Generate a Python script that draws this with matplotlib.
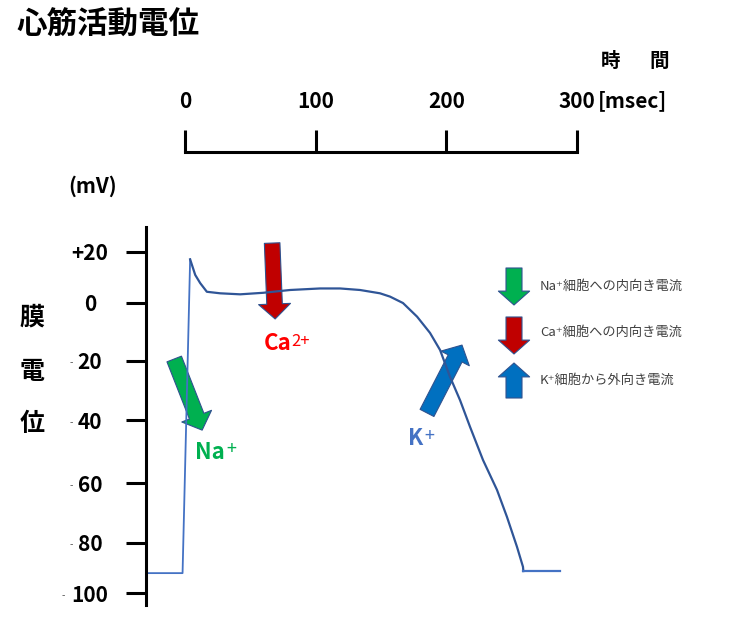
import numpy as np
import matplotlib
matplotlib.use("Agg")
import matplotlib.pyplot as plt
from matplotlib.patches import FancyArrowPatch
from matplotlib.transforms import blended_transform_factory

plt.rcParams['font.family'] = ['Noto Sans CJK JP', 'DejaVu Sans']

# ---- data ----
AP_TIME = [-29, -2, 3.8, 7.7, 11.5, 16.6, 26.8, 42.1, 59.7, 80.4, 103.3, 118.6,
           133.9, 149.2, 156.9, 166.8, 177.6, 187.5, 195.2, 202.8, 210.5, 218.1,
           228.1, 238.8, 246.4, 254.1, 258.7, 259, 287]
AP_MV = [-92, -92, 17.0, 10.9, 7.7, 4.3, 3.7, 3.3, 3.9, 5.0, 5.6, 5.6,
         5.0, 3.7, 2.4, -0.1, -4.8, -10.4, -16.3, -25.4, -33.3, -42.1,
         -52.7, -62.3, -71.3, -81.6, -89.5, -91.2, -91.2]

TIME_TICKS = [0, 100, 200, 300]
TIME_LABELS = ["0", "100", "200", "300"]
MV_TICKS = [20, 0, -20, -40, -60, -80, -100]
MV_LABELS = ["+20", "0", "20", "40", "60", "80", "100"]

# ion arrows (tail, tip) in (msec, mV)
ARROW_NA = ((-8.4, -19.4), (13, -43.2))
ARROW_CA = ((66.6, 23.4), (68.9, -5.6))
ARROW_K = ((185.2, -37.6), (212, -14.6))

LEGEND_TEXT = ["Na⁺細胞への内向き電流", "Ca⁺細胞への内向き電流", "K⁺細胞から外向き電流"]

GREEN, RED, BLUE = "#00B050", "#C00000", "#0070C0"
EDGE = "#2F528F"

# the drawn mV axis is not evenly spaced: calibrate it piecewise
MV_REF = [-110, -100, -80, -60, -40, -20, 0, 20, 40]
PX_REF = [618.6, 593.3, 542.7, 483, 420, 360.7, 302.7, 251.7, 200.7]


def fwd(v):
    return -np.interp(v, MV_REF, PX_REF)


def inv(p):
    return np.interp(-np.asarray(p), PX_REF[::-1], MV_REF[::-1])


W, H = 742, 625
fig = plt.figure(figsize=(W / 100, H / 100), dpi=100)


def fx(x):
    return x / W


def fy(y):
    return 1 - y / H


# main axes
ax = fig.add_axes([fx(146), fy(605), fx(620) - fx(146), fy(227) - fy(605)])
ax.set_yscale('function', functions=(fwd, inv))
ax.set_xlim(-30, 333)
ax.set_ylim(-104.6, 29.7)
for s in ["top", "right", "bottom"]:
    ax.spines[s].set_visible(False)
ax.spines["left"].set_linewidth(2.2)
ax.set_xticks([])
ax.set_yticks(MV_TICKS)
ax.set_yticklabels(MV_LABELS, fontsize=15, fontweight="bold")
ax.tick_params(axis="y", length=14.4, width=2.2, pad=26)
for lab in ax.get_yticklabels():
    lab.set_horizontalalignment("center")
ax.yaxis.set_minor_locator(matplotlib.ticker.NullLocator())

# small dashes in front of the negative labels
tr = blended_transform_factory(fig.transFigure, ax.transData)
for v, lab in zip(MV_TICKS, MV_LABELS):
    if v < 0:
        xd = 63 if len(lab) == 3 else 71
        ax.annotate("-", xy=(fx(xd), v), xycoords=tr, xytext=(0, -2),
                    textcoords="offset points", ha="center", va="center",
                    fontsize=7, color="#555555", annotation_clip=False)

# action potential curve
ax.plot(AP_TIME[:3], AP_MV[:3], color="#4472C4", lw=1.3, clip_on=False)
ax.plot(AP_TIME[2:-1], AP_MV[2:-1], color="#2F5597", lw=1.6, clip_on=False,
        solid_joinstyle="round")
ax.plot(AP_TIME[-2:], AP_MV[-2:], color="#4472C4", lw=1.6, clip_on=False)

arrow_style = "simple,head_length=10.8,head_width=23,tail_width=11.2"
for (tail, tip), col in [(ARROW_NA, GREEN), (ARROW_CA, RED), (ARROW_K, BLUE)]:
    ax.add_patch(FancyArrowPatch(tail, tip, arrowstyle=arrow_style,
                                 mutation_scale=1, fc=col, ec=EDGE, lw=0.8,
                                 shrinkA=0, shrinkB=0, clip_on=False))

# ion labels
ax.text(7.3, -50.2, "Na", color=GREEN, fontsize=16, fontweight="bold", va="center")
ax.text(31.5, -49.3, "+", color=GREEN, fontsize=13, va="center")
ax.text(60.5, -13.9, "Ca", color="#FF0000", fontsize=16, fontweight="bold", va="center")
ax.text(81.5, -13.2, "2+", color="#FF0000", fontsize=12, va="center")
ax.text(170.7, -46, "K", color="#4472C4", fontsize=16, fontweight="bold", va="center")
ax.text(183.5, -45.2, "+", color="#4472C4", fontsize=13, va="center")

# time scale bracket
ax_t = fig.add_axes([fx(146), fy(152), fx(620) - fx(146), fy(113) - fy(152)])
ax_t.set_xlim(-30, 333)
for s in ["top", "right", "left"]:
    ax_t.spines[s].set_visible(False)
ax_t.spines["bottom"].set_linewidth(2.2)
ax_t.spines["bottom"].set_bounds(0, 300)
ax_t.set_yticks([])
ax_t.set_xticks(TIME_TICKS)
ax_t.set_xticklabels(TIME_LABELS, fontsize=15, fontweight="bold")
ax_t.tick_params(axis="x", direction="in", length=15.8, width=2.2,
                 bottom=True, top=False, labelbottom=False, labeltop=True, pad=1)
ax_t.patch.set_visible(False)

# texts
fig.text(fx(16), fy(25), "心筋活動電位", fontsize=22, fontweight="bold", va="center")
fig.text(fx(611), fy(61), "時", fontsize=14, fontweight="bold", ha="center", va="center")
fig.text(fx(659), fy(61), "間", fontsize=14, fontweight="bold", ha="center", va="center")
fig.text(fx(598), fy(101), "[msec]", fontsize=15, fontweight="bold", va="center")
fig.text(fx(93), fy(186), "(mV)", fontsize=15, fontweight="bold", ha="center", va="center")
for ch, yy in zip("膜電位", [318, 372, 424]):
    fig.text(fx(32), fy(yy), ch, fontsize=18, fontweight="bold", ha="center", va="center")

# legend
legend_y = [(268, 305), (317, 354), (398, 363)]
leg_style = "simple,head_length=10,head_width=22.5,tail_width=11.5"
for (y0, y1), col, txt, ty in zip(legend_y, [GREEN, RED, BLUE], LEGEND_TEXT, [286, 332, 380]):
    fig.patches.append(FancyArrowPatch((fx(514), fy(y0)), (fx(514), fy(y1)),
                                       arrowstyle=leg_style, mutation_scale=1,
                                       fc=col, ec=EDGE, lw=0.8, shrinkA=0, shrinkB=0,
                                       transform=fig.transFigure))
    fig.text(fx(540), fy(ty), txt, fontsize=9.5, color="#404040", va="center")

fig.savefig("out.png", dpi=100)
